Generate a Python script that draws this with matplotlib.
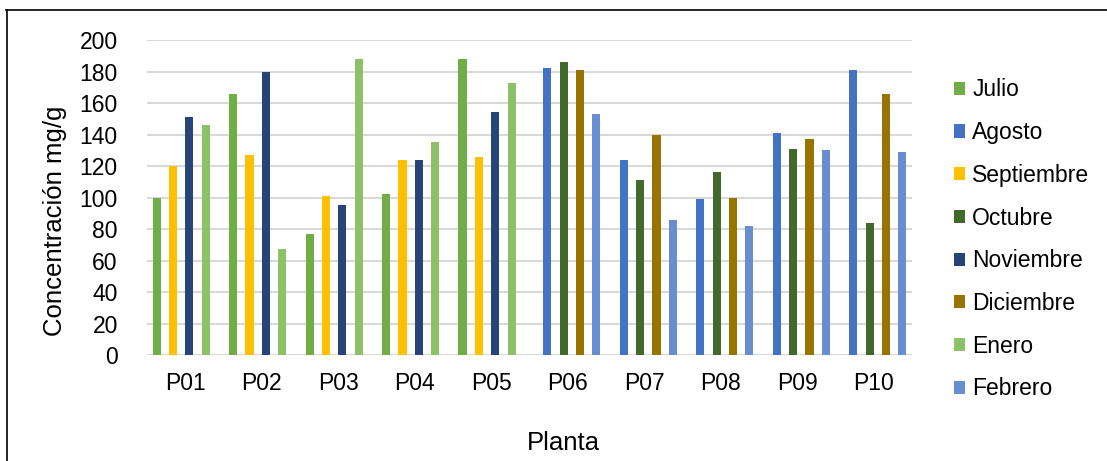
"""Grouped bar chart: concentración mg/g por planta y mes."""
import matplotlib
matplotlib.use("Agg")
import matplotlib.pyplot as plt
import numpy as np
from matplotlib.lines import Line2D

NA = np.nan

plantas = ["P01", "P02", "P03", "P04", "P05", "P06", "P07", "P08", "P09", "P10"]
meses = ["Julio", "Agosto", "Septiembre", "Octubre",
         "Noviembre", "Diciembre", "Enero", "Febrero"]

julio = [100, 166, 77, 102, 188, NA, NA, NA, NA, NA]
agosto = [NA, NA, NA, NA, NA, 182, 124, 99, 141, 181]
septiembre = [120, 127, 101, 124, 126, NA, NA, NA, NA, NA]
octubre = [NA, NA, NA, NA, NA, 186, 111, 116, 131, 84]
noviembre = [151, 180, 95, 124, 154, NA, NA, NA, NA, NA]
diciembre = [NA, NA, NA, NA, NA, 181, 140, 100, 137, 166]
enero = [146, 67, 188, 135, 173, NA, NA, NA, NA, NA]
febrero = [NA, NA, NA, NA, NA, 153, 86, 82, 130, 129]

colores = ["#70AD47", "#4472C4", "#FFC000", "#43682B",
           "#264478", "#997300", "#8CC168", "#698ED0"]

FONT = "Liberation Sans"


def main():
    series = [julio, agosto, septiembre, octubre,
              noviembre, diciembre, enero, febrero]

    fig = plt.figure(figsize=(11.07, 4.61), dpi=100)
    ax = fig.add_axes([0.1328, 0.2299, 0.691, 0.6833])

    x = np.arange(len(plantas))
    w = 0.107
    for i, (vals, name, c) in enumerate(zip(series, meses, colores)):
        ax.bar(x + (i - 3.5) * w, np.array(vals, dtype=float), width=w,
               color=c, label=name, zorder=3)

    ax.set_xlim(-0.5, len(plantas) - 0.5)
    ax.set_ylim(0, 200)
    ax.set_yticks(range(0, 201, 20))
    ax.set_xticks(x)
    ax.set_xticklabels(plantas)
    ax.tick_params(length=0, labelsize=16.5)
    ax.tick_params(axis="y", pad=21)
    ax.tick_params(axis="x", pad=12)
    for lab in ax.get_xticklabels() + ax.get_yticklabels():
        lab.set_fontfamily(FONT)
    ax.grid(axis="y", color="#D9D9D9", linewidth=1.5, zorder=0)
    for s in ax.spines.values():
        s.set_visible(False)

    fig.text(0.0497, 0.52, "Concentración mg/g", rotation=90, ha="center",
             va="center", fontsize=18.5, family=FONT)
    fig.text(0.5086, 1 - 443 / 461, "Planta", ha="center", va="center",
             fontsize=18.5, family=FONT)

    handles, labels = ax.get_legend_handles_labels()
    fig.legend(handles, labels, loc="center left",
               bbox_to_anchor=(0.8618, 0.4807), frameon=False,
               prop={"family": FONT, "size": 16.5}, borderpad=0,
               borderaxespad=0, handlelength=0.5, handleheight=0.5,
               handletextpad=0.3, labelspacing=0.86)

    # outer chart border (left and top visible)
    fig.add_artist(Line2D([6.5 / 1107, 6.5 / 1107], [0, 1 - 10 / 461],
                          color="black", linewidth=1.2))
    fig.add_artist(Line2D([6 / 1107, 1], [1 - 10.5 / 461, 1 - 10.5 / 461],
                          color="black", linewidth=1.2))

    fig.savefig("out.png", dpi=100)


if __name__ == "__main__":
    main()
